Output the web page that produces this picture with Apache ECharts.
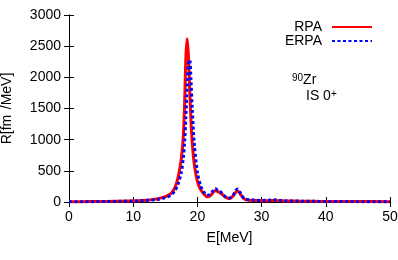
<!DOCTYPE html>
<html>
<head>
<meta charset="utf-8">
<script src="https://cdn.jsdelivr.net/npm/echarts@6/dist/echarts.min.js"></script>
<style>
html,body{margin:0;padding:0;background:#fff;}
#c{width:398px;height:260px;}
</style>
</head>
<body>
<div id="c"></div>
<script>
const energies = [0,2,4,6,8,10,11,12,13,14,15,15.5,16,16.5,17,17.5,17.8,18,18.2,18.4,18.6,18.8,19,19.2,19.5,20,20.5,21,21.5,22,22.5,22.8,23.2,23.6,24,24.5,25,25.5,26,26.3,26.8,27.3,28,29,30,31,32,33,34,36,38,40,45,50];
const rpa = [5,6,7,9,12,17,22,28,38,55,85,110,150,230,400,700,1050,1550,2300,2620,2350,1800,1300,950,620,330,200,130,85,100,160,185,165,145,110,70,55,90,160,177,110,50,28,25,22,22,25,20,16,13,11,9,7,5];
const erpa = [4,5,6,8,11,15,19,24,32,45,70,90,120,180,290,480,700,950,1350,1850,2220,2280,1950,1500,950,480,260,160,110,120,190,215,180,165,120,75,65,100,190,210,120,55,35,30,25,28,35,25,18,14,11,9,6,5];
const xTicks = {min:0, max:50, interval:10};
const yTicks = {min:0, max:3000, interval:500};
const seriesNames = ['RPA','ERPA'];

const chart = echarts.init(document.getElementById('c'), null, {renderer:'canvas'});
const font = 'Liberation Sans, Arial, Helvetica, sans-serif';
const pair = (ys) => energies.map((e,i)=>[e, ys[i]]);
const frameAxis = {
  axisLine:{show:true, lineStyle:{color:'#000', width:1}},
  axisTick:{show:true, inside:true, length:5, lineStyle:{color:'#000', width:1}},
  splitLine:{show:false}
};
chart.setOption({
  animation:false,
  textStyle:{fontFamily:font},
  grid:{left:69, right:8, top:15, bottom:58, containLabel:false, outerBoundsMode:'none'},
  legend:{
    data:seriesNames, orient:'vertical', align:'right', right:25, top:20,
    padding:0, itemGap:0, itemWidth:40, itemHeight:12,
    itemStyle:{opacity:0},
    textStyle:{fontFamily:font, fontSize:14, color:'#000', lineHeight:12.6, padding:[0,5,0,0]}
  },
  xAxis:[
    Object.assign({type:'value', position:'bottom', min:xTicks.min, max:xTicks.max, interval:xTicks.interval,
      name:'E[MeV]', nameLocation:'middle', nameGap:29,
      nameTextStyle:{fontFamily:font, fontSize:14, color:'#000'},
      axisLabel:{fontFamily:font, fontSize:14, color:'#000', margin:8}}, frameAxis),
    Object.assign({type:'value', position:'top', min:xTicks.min, max:xTicks.max, interval:xTicks.interval,
      axisLabel:{show:false}}, frameAxis)
  ],
  yAxis:[
    Object.assign({type:'value', position:'left', min:yTicks.min, max:yTicks.max, interval:yTicks.interval,
      name:'R[fm{s|4}/MeV]', nameLocation:'middle', nameGap:55,
      nameTextStyle:{fontFamily:font, fontSize:14, color:'#000', rich:{s:{fontSize:10, verticalAlign:'top', color:'#fff'}}},
      axisLabel:{fontFamily:font, fontSize:14, color:'#000', margin:8, formatter:(v)=>String(v)}}, frameAxis),
    Object.assign({type:'value', position:'right', min:yTicks.min, max:yTicks.max, interval:yTicks.interval,
      axisLabel:{show:false}}, frameAxis)
  ],
  series:[
    {name:'RPA', type:'line', data:pair(rpa), smooth:0.3, symbol:'none', z:2,
     lineStyle:{color:'#ff0000', width:3, type:'solid'}, itemStyle:{color:'#ff0000'}},
    {name:'ERPA', type:'line', data:pair(erpa), smooth:0.3, symbol:'none', z:3,
     lineStyle:{color:'#0000ff', width:3, type:[3,2.5]}, itemStyle:{color:'#0000ff'}}
  ],
  graphic:[
    {type:'text', left:292, top:73, style:{text:'{s|90}Zr', fontFamily:font, fontSize:14, fill:'#000',
      rich:{s:{fontSize:10, verticalAlign:'top', fontFamily:font}}}},
    {type:'text', left:306, top:89, style:{text:'IS 0{s|+}', fontFamily:font, fontSize:14, fill:'#000',
      rich:{s:{fontSize:10, verticalAlign:'top', fontFamily:font}}}}
  ]
});
</script>
</body>
</html>
